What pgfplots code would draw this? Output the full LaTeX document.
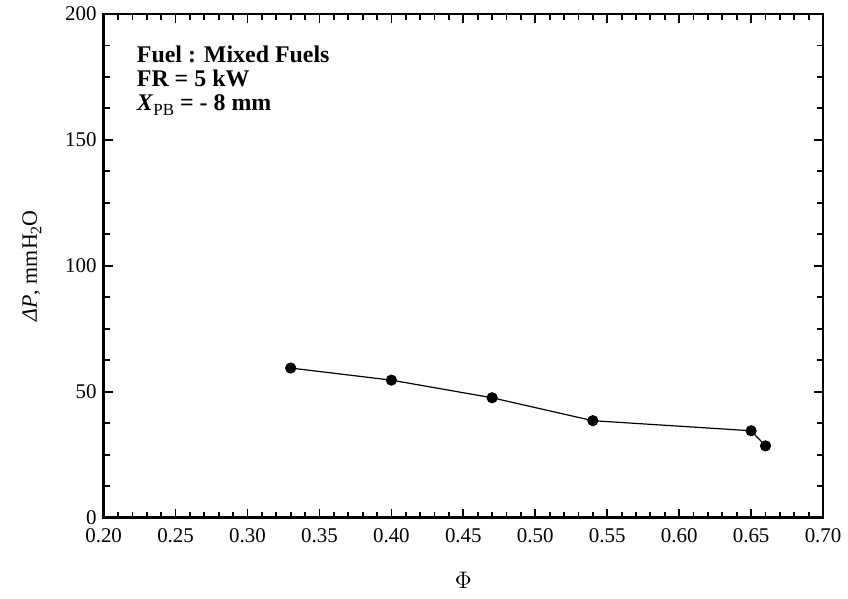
\documentclass[border=0pt]{standalone}
\usepackage{pgfplots}
\pgfplotsset{compat=1.18}
\usepackage{fontspec}
\setmainfont{Liberation Serif}
\begin{document}
\begin{tikzpicture}
\begin{axis}[
  scale only axis,
  width=361pt, height=252.75pt,
  xmin=0.20, xmax=0.70, ymin=0, ymax=200,
  xtick={0.20,0.25,...,0.701},
  ytick={0,50,100,150,200},
  minor x tick num=4,
  minor y tick num=3,
  tick align=inside,
  tick pos=both,
  major tick length=4.5pt,
  minor tick length=3pt,
  axis line style={line width=1.2pt},
  every tick/.style={line width=0.9pt, black},
  /pgf/number format/assume math mode=true,
  xticklabel style={font=\fontsize{10.5}{12}\selectfont, yshift=-2pt, /pgf/number format/.cd, fixed, fixed zerofill, precision=2},
  yticklabel style={font=\fontsize{10.5}{12}\selectfont},
  xlabel={$\Phi$},
  xlabel style={font=\fontsize{11.5}{13}\selectfont, at={(axis description cs:0.5,-0.125)}, anchor=center},
  ylabel={\textit{ΔP}, mmH\raisebox{-0.45ex}{\fontsize{8}{9}\selectfont 2}O},
  ylabel style={font=\fontsize{11}{12}\selectfont, at={(axis description cs:-0.0997,0.5)}, anchor=center},
  clip=false,
]
\addplot[black, line width=0.6pt, mark=*, mark size=2.5pt] coordinates {
  (0.33,59.4) (0.40,54.6) (0.47,47.6) (0.54,38.5) (0.65,34.5) (0.66,28.5)
};
\node[anchor=north west, align=left, inner sep=0pt, font=\fontsize{12}{12}\selectfont\bfseries] at (rel axis cs:0.0457,0.937)
  {Fuel : Mixed Fuels\\[0pt] FR = 5 kW\\[0pt] \textit{X}\raisebox{-0.5ex}{\fontsize{8.5}{9}\selectfont\mdseries PB} = - 8 mm};
\end{axis}
\useasboundingbox ([xshift=-52pt,yshift=-40.75pt]current axis.south west) rectangle ([xshift=11pt,yshift=7pt]current axis.north east);
\end{tikzpicture}
\end{document}
